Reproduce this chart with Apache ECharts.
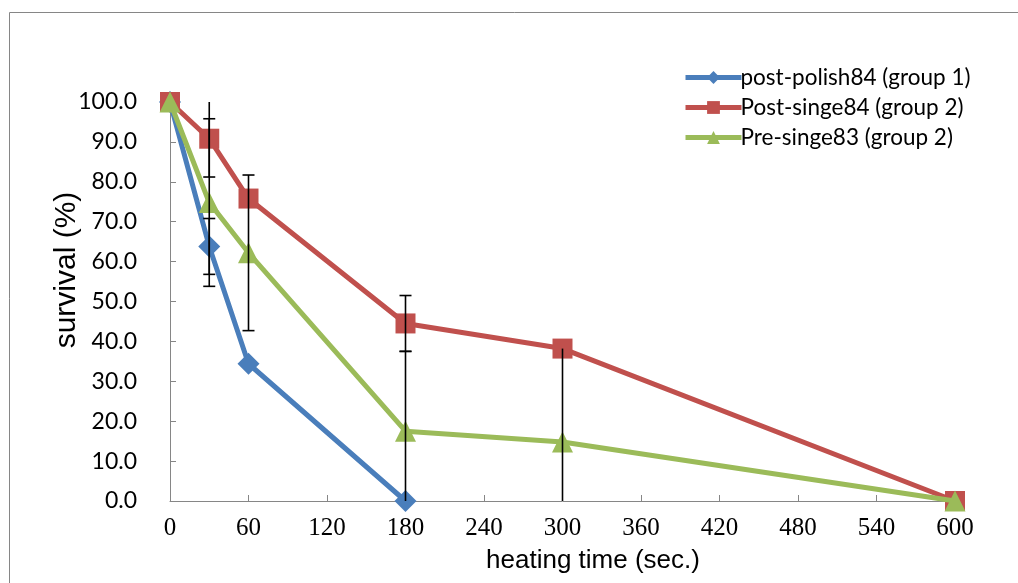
<!DOCTYPE html>
<html lang="en">
<head>
    <meta charset="UTF-8">
    <title>survival</title>
    <script src="https://cdn.jsdelivr.net/npm/echarts@6/dist/echarts.min.js"></script>
    <style>
        html, body { margin: 0; padding: 0; background: #fff; }
        #chart { width: 1018px; height: 583px; }
    </style>
</head>
<body>
<div id="chart"></div>
<script>
    // heating time (sec.) and survival (%), error bars as plus / minus
    var blueTimes = [0, 30, 60, 180];
    var blueValues = [100, 63.8, 34.4, 0];
    var bluePlus = [0, 7, 0, 0];
    var blueMinus = [0, 7, 0, 0];

    var redTimes = [0, 30, 60, 180, 300, 600];
    var redValues = [100, 90.8, 75.8, 44.5, 38.2, 0];
    var redPlus = [0, 9.6, 0, 7, 0, 0];
    var redMinus = [0, 9.6, 0, 7, 40, 0];

    var greenTimes = [0, 30, 60, 180, 300, 600];
    var greenValues = [100, 74.8, 62.2, 17.5, 14.8, 0];
    var greenPlus = [0, 21, 19.5, 20, 0, 0];
    var greenMinus = [0, 21, 19.5, 20, 0, 0];

    var seriesNames = ['post-polish84 (group 1)', 'Post-singe84 (group 2)', 'Pre-singe83 (group 2)'];

    function pairs(xs, ys) {
        return xs.map(function (x, i) { return [x, ys[i]]; });
    }
    function errData(xs, ys, up, down) {
        var out = [];
        xs.forEach(function (x, i) {
            if (up[i] > 0 || down[i] > 0) out.push([x, ys[i], up[i], down[i]]);
        });
        return out;
    }
    var allErr = errData(blueTimes, blueValues, bluePlus, blueMinus)
        .concat(errData(redTimes, redValues, redPlus, redMinus))
        .concat(errData(greenTimes, greenValues, greenPlus, greenMinus));

    function renderErr(params, api) {
        var x = api.value(0), v = api.value(1), up = api.value(2), down = api.value(3);
        var lo = v - down, hi = v + up;
        var pLo = api.coord([x, Math.max(lo, 0)]);
        var pHi = api.coord([x, Math.min(hi, 100)]);
        var st = { stroke: '#000', lineWidth: 1.6 };
        var children = [{ type: 'line', shape: { x1: pLo[0], y1: pLo[1], x2: pHi[0], y2: pHi[1] }, style: st }];
        var w = 6;
        if (down > 0 && lo >= 0) {
            children.push({ type: 'line', shape: { x1: pLo[0] - w, y1: pLo[1], x2: pLo[0] + w, y2: pLo[1] }, style: st });
        }
        if (up > 0 && hi <= 100) {
            children.push({ type: 'line', shape: { x1: pHi[0] - w, y1: pHi[1], x2: pHi[0] + w, y2: pHi[1] }, style: st });
        }
        return { type: 'group', children: children };
    }

    var axisGray = '#868686';
    var chart = echarts.init(document.getElementById('chart'));
    var option = {
        animation: false,
        grid: { left: 170, right: 63, top: 102, bottom: 82, outerBoundsMode: 'none', containLabel: false },
        graphic: [{
            type: 'rect',
            shape: { x: 9.5, y: 12.5, width: 1200, height: 800 },
            style: { fill: 'none', stroke: axisGray, lineWidth: 1 },
            silent: true
        }, {
            type: 'text',
            x: 67, y: 270,
            rotation: Math.PI / 2,
            style: {
                text: 'survival (%)',
                font: '30px "Liberation Sans", Arial, sans-serif',
                fill: '#000',
                align: 'center',
                verticalAlign: 'middle'
            }
        }, {
            type: 'text',
            x: 593, y: 561,
            style: {
                text: 'heating time (sec.)',
                font: '26px "Liberation Sans", Arial, sans-serif',
                fill: '#000',
                align: 'center',
                verticalAlign: 'middle'
            }
        }],
        legend: {
            orient: 'vertical',
            left: 678,
            top: 61,
            itemWidth: 56,
            itemHeight: 16,
            itemGap: 7,
            lineStyle: { width: 5 },
            textStyle: { fontFamily: 'Lato', fontSize: 22.5, color: '#000', padding: [0, 0, 0, -6] },
            data: seriesNames
        },
        xAxis: {
            type: 'value',
            min: 0, max: 600, interval: 60,
            axisLine: { lineStyle: { color: axisGray, width: 1 } },
            axisTick: { show: true, inside: true, length: 6, lineStyle: { color: axisGray } },
            axisLabel: { margin: 15, fontFamily: '"Liberation Serif", "Times New Roman", serif', fontSize: 25, color: '#000' },
            splitLine: { show: false }
        },
        yAxis: {
            type: 'value',
            min: 0, max: 100, interval: 10,
            axisLine: { show: true, lineStyle: { color: axisGray, width: 1 } },
            axisTick: { show: true, inside: true, length: 6, lineStyle: { color: axisGray } },
            axisLabel: {
                margin: 33, fontFamily: 'Lato', fontSize: 23, color: '#000',
                formatter: function (v) { return v.toFixed(1); }
            },
            splitLine: { show: false }
        },
        series: [{
            name: seriesNames[0],
            type: 'line',
            data: pairs(blueTimes, blueValues),
            symbol: 'diamond', symbolSize: 22,
            lineStyle: { color: '#4A7EBB', width: 5 },
            itemStyle: { color: '#4A7EBB' },
            z: 2
        }, {
            name: seriesNames[1],
            type: 'line',
            data: pairs(redTimes, redValues),
            symbol: 'rect', symbolSize: 20,
            lineStyle: { color: '#C0504D', width: 5 },
            itemStyle: { color: '#C0504D' },
            z: 3
        }, {
            name: seriesNames[2],
            type: 'line',
            data: pairs(greenTimes, greenValues),
            symbol: 'triangle', symbolSize: 21,
            lineStyle: { color: '#9BBB59', width: 5 },
            itemStyle: { color: '#9BBB59' },
            z: 4
        }, {
            type: 'custom',
            renderItem: renderErr,
            data: allErr,
            z: 10,
            silent: true
        }]
    };
    chart.setOption(option);
</script>
</body>
</html>
